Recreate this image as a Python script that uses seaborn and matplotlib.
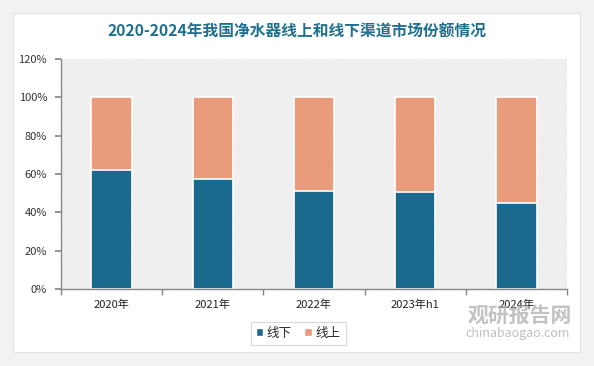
import matplotlib
matplotlib.use("Agg")
import matplotlib.pyplot as plt
import seaborn as sns
import pandas as pd
from matplotlib.patches import Rectangle, Patch

# 数据
years = ['2020年', '2021年', '2022年', '2023年h1', '2024年']
offline = [61.9, 57.2, 51.0, 50.4, 44.7]   # 线下
online = [38.1, 42.8, 49.0, 49.6, 55.3]    # 线上

df = pd.DataFrame({'年份': years, '线下': offline, '线上': online})
df['合计'] = df['线下'] + df['线上']

c_off = '#1b6a8e'
c_on = '#e89c7b'

sns.set_theme(style='white')
plt.rcParams['font.family'] = ['Noto Sans CJK SC', 'DejaVu Sans']
plt.rcParams['hatch.color'] = '#e0e0e0'
plt.rcParams['hatch.linewidth'] = 0.6

fig = plt.figure(figsize=(5.94, 3.66), dpi=100, facecolor='#f2f2f2')
# 白色卡片
fig.patches.append(Rectangle((13 / 594, 1 - 352 / 366), 567 / 594, 339 / 366,
                             transform=fig.transFigure, facecolor='white',
                             edgecolor='#e2e2e2', lw=0.8, zorder=-5))

ax = fig.add_axes([61 / 594, 1 - 289 / 366, 506 / 594, 230 / 366])
ax.set_facecolor('white')
ax.patch.set_hatch('\\' * 14)
ax.patch.set_edgecolor('#e0e0e0')

sns.barplot(data=df, x='年份', y='合计', color=c_on, width=0.4,
            edgecolor='white', linewidth=1.2, ax=ax, saturation=1)
sns.barplot(data=df, x='年份', y='线下', color=c_off, width=0.4,
            edgecolor='white', linewidth=1.2, ax=ax, saturation=1)

ax.set_ylim(0, 120)
ax.set_xlim(-0.5, len(years) - 0.5)
ax.set_yticks(range(0, 121, 20))
ax.set_yticklabels([f'{v}%' for v in range(0, 121, 20)], fontsize=8, color='#333333')
ax.set_xticks(range(len(years)))
ax.set_xticklabels(years, fontsize=8, color='#222222')
ax.set_xticks([i - 0.5 for i in range(len(years) + 1)], minor=True)
ax.tick_params(axis='x', which='major', length=0, pad=8)
ax.tick_params(axis='x', which='minor', length=4, color='#888888', bottom=True)
ax.tick_params(axis='y', length=4, color='#888888', left=True, pad=6)
ax.set_xlabel('')
ax.set_ylabel('')
for s in ['top', 'right']:
    ax.spines[s].set_visible(False)
for s in ['left', 'bottom']:
    ax.spines[s].set_color('#888888')
    ax.spines[s].set_linewidth(1)

fig.text(0.5, 1 - 32 / 366, '2020-2024年我国净水器线上和线下渠道市场份额情况',
         ha='center', va='center', fontsize=11.3, fontweight='bold', color='#1f6f8f')

handles = [Patch(facecolor=c_off, label='线下'), Patch(facecolor=c_on, label='线上')]
leg = fig.legend(handles=handles, loc='center', bbox_to_anchor=(298 / 594, 1 - 333 / 366),
                 ncol=2, fontsize=9, frameon=True, fancybox=False, handlelength=0.6,
                 handleheight=0.6, handletextpad=0.3, columnspacing=1.0, borderpad=0.4)
leg.get_frame().set_edgecolor('#d0d0d0')
leg.get_frame().set_linewidth(0.8)

# 水印
fig.text(520 / 594, 1 - 315 / 366, '观研报告网', ha='center', va='center',
         fontsize=15, fontweight='bold', color='#a8a8a8', alpha=0.7)
fig.text(518 / 594, 1 - 334 / 366, 'chinabaogao.com', ha='center', va='center',
         fontsize=9, color='#b0b0b0', alpha=0.8)

fig.savefig('out.png', dpi=100, facecolor=fig.get_facecolor())
